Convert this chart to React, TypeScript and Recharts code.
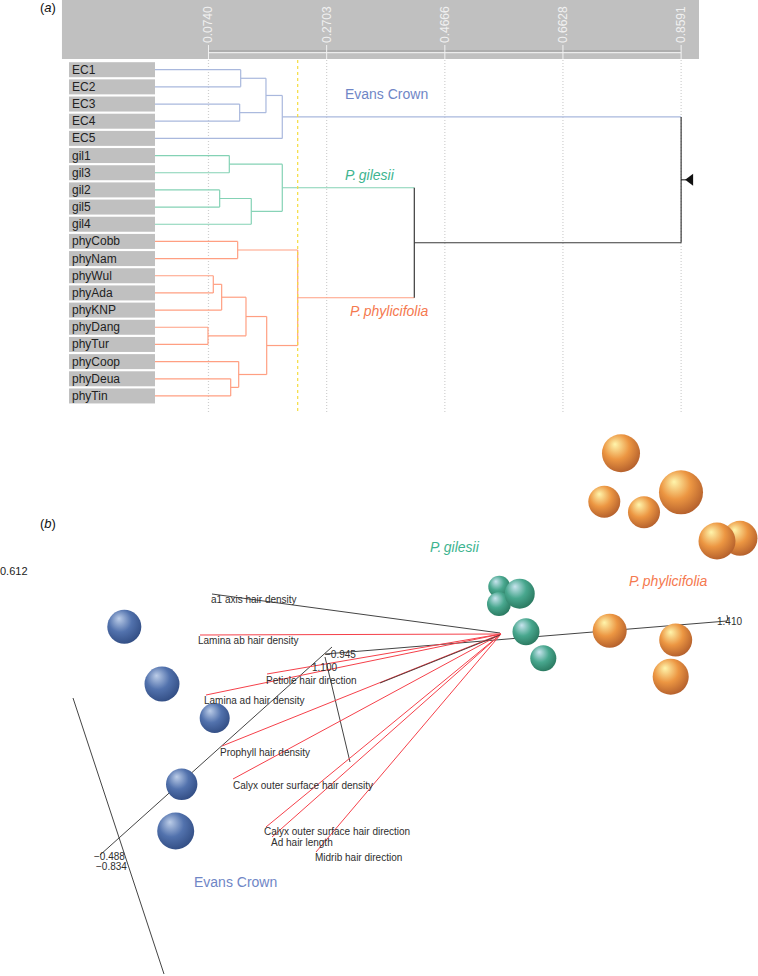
import React from 'react';
import { ComposedChart, Line, Scatter, XAxis, YAxis, ZAxis, ReferenceArea } from 'recharts';

const FONT = '"Liberation Sans", Arial, sans-serif';
const BLUE = '#a9b8dd';
const GREEN = '#84d2b5';
const ORANGE = '#ff9f82';
const DARK = '#3a3a3a';

// (a) dendrogram
const distanceTicks = [0.074, 0.2703, 0.4666, 0.6628, 0.8591];
const leaves = ['EC1', 'EC2', 'EC3', 'EC4', 'EC5', 'gil1', 'gil3', 'gil2', 'gil5', 'gil4', 'phyCobb', 'phyNam', 'phyWul', 'phyAda', 'phyKNP', 'phyDang', 'phyTur', 'phyCoop', 'phyDeua', 'phyTin'];
const leafEdge = -0.0149;
const cutHeight = 0.2222;

// id, left child, right child, height
const mergesEC: [string, string, string, number][] = [
  ['e12', 'EC1', 'EC2', 0.1275],
  ['e34', 'EC3', 'EC4', 0.1258],
  ['e1234', 'e12', 'e34', 0.1695],
  ['ec', 'e1234', 'EC5', 0.1966],
];
const mergesGil: [string, string, string, number][] = [
  ['g13', 'gil1', 'gil3', 0.1086],
  ['g25', 'gil2', 'gil5', 0.0926],
  ['g254', 'g25', 'gil4', 0.1451],
  ['gil', 'g13', 'g254', 0.1966],
];
const mergesPhy: [string, string, string, number][] = [
  ['p1', 'phyCobb', 'phyNam', 0.1225],
  ['p2', 'phyWul', 'phyAda', 0.082],
  ['p3', 'p2', 'phyKNP', 0.0959],
  ['p4', 'phyDang', 'phyTur', 0.0732],
  ['p5', 'p3', 'p4', 0.1363],
  ['p6', 'phyDeua', 'phyTin', 0.1109],
  ['p7', 'phyCoop', 'p6', 0.1242],
  ['p8', 'p5', 'p7', 0.1707],
  ['phy', 'p1', 'p8', 0.2222],
];
const mergesTop: [string, string, string, number][] = [
  ['gp', 'gil', 'phy', 0.4159],
  ['root', 'ec', 'gp', 0.8591],
];

const dendroNotes = [
  { x: 0.3007, y: 1.4, text: 'Evans Crown', color: '#6f86c6', italic: false },
  { x: 0.3007, y: 6.13, text: 'P. gilesii', color: '#3db48f', italic: true },
  { x: 0.309, y: 14.04, text: 'P. phylicifolia', color: '#f5794f', italic: true },
];

// (b) ordination, projected scores
const blueX = [-3.757, -3.38, -2.853, -3.183, -3.243];
const blueY = [0.063, -0.51, -0.85, -1.513, -1.98];
const blueZ = [0.181, 0.191, 0.141, 0.154, 0.214];
const greenX = [-0.007, -0.01, 0.197, 0.26, 0.433];
const greenY = [0.463, 0.29, 0.393, 0.013, -0.253];
const greenZ = [0.076, 0.09, 0.141, 0.114, 0.106];
const orangeX = [1.21, 1.043, 1.44, 1.81, 2.4, 2.17, 1.097, 1.757, 1.707];
const orangeY = [1.797, 1.313, 1.207, 1.407, 0.947, 0.92, 0.023, -0.07, -0.437];
const orangeZ = [0.226, 0.16, 0.16, 0.303, 0.191, 0.214, 0.181, 0.17, 0.203];

const traitNames = ['a1 axis hair density', 'Lamina ab hair density', 'Petiole hair direction', 'Lamina ad hair density', 'Prophyll hair density', 'Calyx outer surface hair density', 'Calyx outer surface hair direction', 'Ad hair length', 'Midrib hair direction'];
const traitLabelX = [-2.89, -3.02, -2.34, -2.96, -2.8, -2.67, -2.36, -2.29, -1.85];
const traitLabelY = [0.34, -0.075, -0.47, -0.67, -1.19, -1.52, -1.985, -2.095, -2.24];
const vectorEndX = [-3, -2.33, -2.94, -2.78, -2.67, -2.34, -2.28, -1.84];
const vectorEndY = [-0.02, -0.41, -0.62, -1.13, -1.46, -1.94, -2.04, -2.19];

const axisSegments = [
  [2.27, 0.12, -1.75, -0.21],
  [2.27, 0.18, 2.28, 0.12],
  [-4, -2.22, -1.68, -0.14],
  [-4.27, -0.65, -3.36, -3.41],
  [-1.75, -0.24, -1.5, -1.29],
  [-2.88, 0.39, 0, 0],
];
const axisLabels = [
  { x: -1.75, y: -0.215, text: '\u22120.945' },
  { x: -1.88, y: -0.34, text: '1.100' },
  { x: 2.17, y: 0.115, text: '1.410' },
  { x: -4.06, y: -2.23, text: '\u22120.488' },
  { x: -4.04, y: -2.33, text: '\u22120.834' },
];
const ordinationNotes = [
  { x: -0.7, y: 0.863, text: 'P. gilesii', color: '#3db48f', italic: true },
  { x: 1.29, y: 0.52, text: 'P. phylicifolia', color: '#f5794f', italic: true },
  { x: -3.06, y: -2.487, text: 'Evans Crown', color: '#6f86c6', italic: false },
];

// build the dendrogram from the merge lists
const allMerges = [...mergesEC, ...mergesGil, ...mergesPhy, ...mergesTop];
const nodes: Record<string, { h: number; row: number; color: string }> = {};
leaves.forEach((name, i) => {
  nodes[name] = { h: leafEdge, row: i, color: i < 5 ? BLUE : i < 10 ? GREEN : ORANGE };
});
const colorOf = (id: string) => {
  if (mergesEC.some((m) => m[0] === id)) return BLUE;
  if (mergesGil.some((m) => m[0] === id)) return GREEN;
  if (mergesPhy.some((m) => m[0] === id)) return ORANGE;
  return DARK;
};
const treeSegments: { color: string; pts: { x: number; y: number }[] }[] = [];
allMerges.forEach(([id, a, b, h]) => {
  const l = nodes[a];
  const r = nodes[b];
  const color = colorOf(id);
  nodes[id] = { h, row: (l.row + r.row) / 2, color };
  treeSegments.push({ color: l.color, pts: [{ x: l.h, y: l.row }, { x: h, y: l.row }] });
  treeSegments.push({ color: r.color, pts: [{ x: r.h, y: r.row }, { x: h, y: r.row }] });
  treeSegments.push({ color, pts: [{ x: h, y: l.row }, { x: h, y: r.row }] });
});

const seg = (key: string, pts: { x: number; y: number }[], stroke: string, extra: any = {}) => (
  <Line key={key} data={pts} dataKey="y" stroke={stroke} strokeWidth={1.2} dot={false} activeDot={false} isAnimationActive={false} legendType="none" {...extra} />
);

const DistanceTick = (props: any) => {
  const { x, payload } = props;
  return (
    <g>
      <line x1={x} x2={x} y1={45} y2={59} stroke="#f2f2f2" strokeWidth={1} />
      <text x={x} y={43} transform={`rotate(-90 ${x} 43)`} dy={4} fontSize={12} fontFamily={FONT} fill="#f0f0f0">
        {payload.value.toFixed(4)}
      </text>
    </g>
  );
};

const LeafTick = (props: any) => {
  const { y, payload } = props;
  return (
    <g>
      <rect x={69} y={y - 7.5} width={86} height={15} fill="#c0c0c0" />
      <text x={72} y={y + 4} fontSize={12} fontFamily={FONT} fill="#222">
        {leaves[payload.value]}
      </text>
    </g>
  );
};

const Note = (props: any) => {
  const { cx, cy, payload } = props;
  return (
    <text x={cx} y={cy} dy={5} fontSize={14} fontFamily={FONT} fill={payload.color} fontStyle={payload.italic ? 'italic' : 'normal'} wordSpacing={payload.italic ? -1.5 : 0}>
      {payload.text}
    </text>
  );
};

const SmallLabel = (props: any) => {
  const { cx, cy, payload } = props;
  return (
    <text x={cx} y={cy} dy={3.5} fontSize={10} fontFamily={FONT} fill="#2e2e2e">
      {payload.text}
    </text>
  );
};

const PanelLetter = (props: any) => {
  const { cx, cy, payload } = props;
  return (
    <text x={cx} y={cy} dy={4.5} fontSize={13} fontFamily={FONT} fill="#111">
      (<tspan fontStyle="italic">{payload.text}</tspan>)
    </text>
  );
};

const PlainValue = (props: any) => {
  const { cx, cy, payload } = props;
  return (
    <text x={cx} y={cy} dy={4} fontSize={11} fontFamily={FONT} fill="#222">
      {payload.text}
    </text>
  );
};

const RootMarker = (props: any) => {
  const { cx, cy } = props;
  return (
    <g>
      <line x1={cx} x2={cx + 5} y1={cy} y2={cy} stroke="#111" />
      <path d={`M${cx + 4} ${cy} L${cx + 12} ${cy - 6} L${cx + 12} ${cy + 6} Z`} fill="#111" />
    </g>
  );
};

const Ball = ({ id, light, mid, edge }: { id: string; light: string; mid: string; edge: string }) => (
  <radialGradient id={id} cx="0.42" cy="0.38" r="0.68" fx="0.34" fy="0.26">
    <stop offset="0%" stopColor={light} />
    <stop offset="50%" stopColor={mid} />
    <stop offset="100%" stopColor={edge} />
  </radialGradient>
);

const zip = (xs: number[], ys: number[], zs: number[]) => xs.map((x, i) => ({ x, y: ys[i], z: zs[i] }));

const Dendrogram = () => {
  const rootRow = nodes.root.row;
  return (
    <ComposedChart width={758} height={420} margin={{ top: -1, right: 0, bottom: 0, left: -1 }}>
      <XAxis type="number" dataKey="x" orientation="top" height={1} domain={[-0.2723, 0.9868]} ticks={distanceTicks} interval={0} tick={DistanceTick} axisLine={false} tickLine={false} allowDataOverflow />
      <YAxis type="number" dataKey="y" reversed width={1} domain={[-4.059, 20.4]} ticks={leaves.map((_, i) => i)} interval={0} tick={LeafTick} axisLine={false} tickLine={false} allowDataOverflow />
      <ReferenceArea x1={-0.1694} x2={0.8888} y1={-4.059} y2={-0.623} fill="#c0c0c0" fillOpacity={1} stroke="none" />
      {seg('base1', [{ x: distanceTicks[0], y: -1.09 }, { x: distanceTicks[4], y: -1.09 }], '#9a9a9a')}
      {seg('base2', [{ x: distanceTicks[0], y: -1.0 }, { x: distanceTicks[4], y: -1.0 }], '#ececec')}
      {distanceTicks.map((t) => seg(`grid${t}`, [{ x: t, y: -0.57 }, { x: t, y: 19.93 }], '#cfcfcf', { strokeDasharray: '1 2' }))}
      {treeSegments.map((s, i) => seg(`t${i}`, s.pts, s.color))}
      {seg('cut', [{ x: cutHeight, y: -0.57 }, { x: cutHeight, y: 19.93 }], '#f5dc3c', { strokeDasharray: '3 3' })}
      <Scatter data={[{ x: nodes.root.h, y: rootRow }]} shape={RootMarker} isAnimationActive={false} />
      <Scatter data={dendroNotes} shape={Note} isAnimationActive={false} />
      <Scatter data={[{ x: -0.2059, y: -3.65, text: 'a' }]} shape={PanelLetter} isAnimationActive={false} />
    </ComposedChart>
  );
};

const Ordination = () => (
  <ComposedChart width={758} height={556} margin={{ top: 0, right: 0, bottom: 0, left: 0 }}>
    <defs>
      <Ball id="ballBlue" light="#bccde8" mid="#5272ad" edge="#2f4a80" />
      <Ball id="ballGreen" light="#c8e4ee" mid="#48a78e" edge="#27745b" />
      <Ball id="ballOrange" light="#fff5ac" mid="#ec9642" edge="#ae5a2a" />
    </defs>
    <XAxis type="number" dataKey="x" hide domain={[-5, 2.58]} allowDataOverflow />
    <YAxis type="number" dataKey="y" hide domain={[-3.43, 2.13]} allowDataOverflow />
    <ZAxis type="number" dataKey="z" domain={[0, 1]} range={[0, 5026.5]} />
    {axisSegments.map((a, i) => seg(`axis${i}`, [{ x: a[0], y: a[1] }, { x: a[2], y: a[3] }], '#444', { strokeWidth: 1 }))}
    {vectorEndX.map((x, i) => seg(`vec${i}`, [{ x: 0.01, y: -0.01 }, { x, y: vectorEndY[i] }], '#f5404a', { strokeWidth: 1 }))}
    {seg('prophyllShade', [{ x: 0, y: -0.02 }, { x: -1.2, y: -0.5 }], '#5a3a3a', { strokeWidth: 1 })}
    <Scatter data={zip(blueX, blueY, blueZ)} fill="url(#ballBlue)" isAnimationActive={false} />
    <Scatter data={zip(greenX, greenY, greenZ)} fill="url(#ballGreen)" isAnimationActive={false} />
    <Scatter data={zip(orangeX, orangeY, orangeZ)} fill="url(#ballOrange)" isAnimationActive={false} />
    <Scatter data={traitNames.map((text, i) => ({ x: traitLabelX[i], y: traitLabelY[i], text }))} shape={SmallLabel} isAnimationActive={false} />
    <Scatter data={axisLabels} shape={SmallLabel} isAnimationActive={false} />
    <Scatter data={ordinationNotes} shape={Note} isAnimationActive={false} />
    <Scatter data={[{ x: -4.6, y: 1.1, text: 'b' }]} shape={PanelLetter} isAnimationActive={false} />
    <Scatter data={[{ x: -5, y: 0.62, text: '0.612' }]} shape={PlainValue} isAnimationActive={false} />
  </ComposedChart>
);

export default function App() {
  return (
    <div style={{ position: 'absolute', left: 0, top: 0, width: 758, height: 976, background: '#fff' }}>
      <Dendrogram />
      <Ordination />
    </div>
  );
}
